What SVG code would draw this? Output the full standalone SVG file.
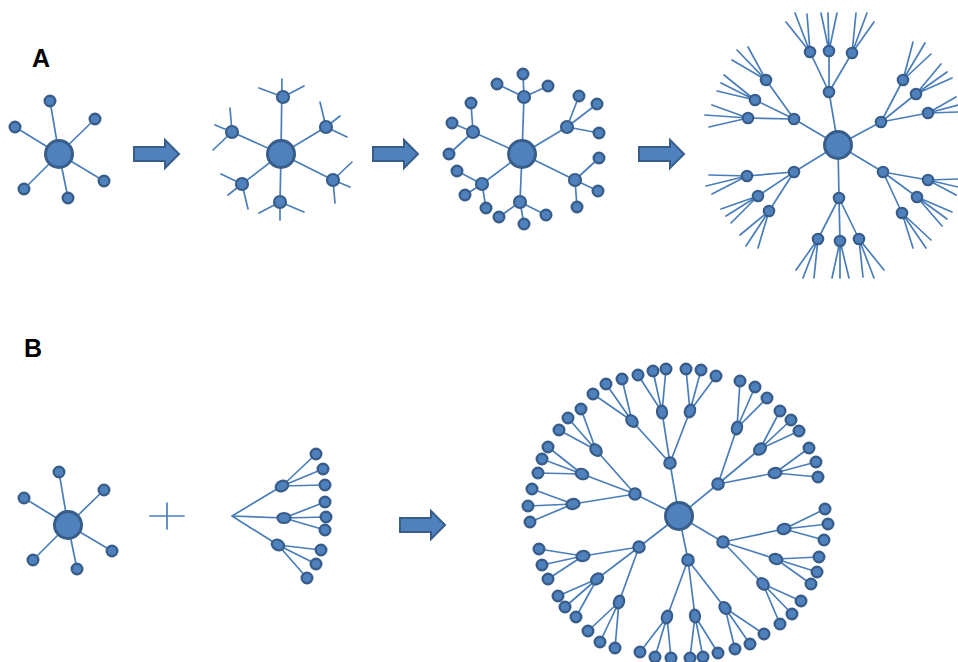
<svg xmlns="http://www.w3.org/2000/svg" width="958" height="662" viewBox="0 0 958 662">
<style>
.e{stroke:#4A7EBB;stroke-width:1.7;fill:none;stroke-linecap:round}
.hub{fill:#4F81BD;stroke:#385D8A;stroke-width:3}
.n{fill:#4F81BD;stroke:#385D8A;stroke-width:2.2}
.l{fill:#4F81BD;stroke:#385D8A;stroke-width:2.4}
.arr{fill:#4F81BD;stroke:#385D8A;stroke-width:2}
.lbl{font-family:"Liberation Sans",Arial,sans-serif;font-weight:bold;font-size:25px;fill:#000}
</style>
<rect width="958" height="662" fill="#fff"/>
<text class="lbl" x="32" y="67">A</text>
<text class="lbl" x="24" y="357">B</text>

<g id="arrows">
<path class="arr" d="M134,147 L165,147 L165,140 L179,154 L165,168 L165,161 L134,161 Z"/>
<path class="arr" d="M373,147 L404,147 L404,140 L418,154 L404,168 L404,161 L373,161 Z"/>
<path class="arr" d="M639,147 L670,147 L670,140 L684,154 L670,168 L670,161 L639,161 Z"/>
<path class="arr" d="M400,518 L431,518 L431,511 L445,525 L431,539 L431,532 L400,532 Z"/>
</g>

<g id="connectors" class="e">
<!-- A1 -->
<path d="M59,154L50,101M59,154L95,119M59,154L15,127M59,154L104,181M59,154L24,189M59,154L68,198"/>
<!-- A2 -->
<path d="M281,154L282,79M281,154L326,127M281,154L232,132M281,154L333,180M281,154L242,184M281,154L280,202"/>
<path d="M283,97L259,88M283,97L304,86"/>
<path d="M326,127L320,102M326,127L340,116M326,127L347,137"/>
<path d="M232,132L230,108M232,132L215,125M232,132L213,150"/>
<path d="M333,180L352,162M333,180L350,187M333,180L335,203"/>
<path d="M242,184L221,174M242,184L228,195M242,184L248,209"/>
<path d="M280,202L259,213M280,202L280,220M280,202L304,212"/>
<!-- A3 -->
<path d="M522,154L524,97M522,154L567,127M522,154L473,132M522,154L575,180M522,154L482,184M522,154L520,202"/>
<path d="M524,97L523,74M524,97L497,84M524,97L548,86"/>
<path d="M567,127L579,96M567,127L597,104M567,127L599,133"/>
<path d="M473,132L471,103M473,132L452,123M473,132L449,154"/>
<path d="M575,180L599,158M575,180L598,191M575,180L577,207"/>
<path d="M482,184L457,171M482,184L465,195M482,184L486,208"/>
<path d="M520,202L499,217M520,202L524,224M520,202L546,215"/>
<!-- A4 -->
<path d="M838,145L829,92M838,145L794,119M838,145L881,122M838,145L794,172M838,145L839,198M838,145L883,172"/>
<path d="M829,92L810,52M829,92L829,51M829,92L852,53"/>
<path d="M810,52L786,22M810,52L795,13M810,52L807,14"/>
<path d="M829,51L821,13M829,51L828,13M829,51L837,13"/>
<path d="M852,53L856,13M852,53L867,13M852,53L874,22"/>
<path d="M794,119L766,80M794,119L755,100M794,119L748,118"/>
<path d="M766,80L737,50M766,80L748,47M766,80L732,60"/>
<path d="M755,100L724,75M755,100L721,83M755,100L717,91"/>
<path d="M748,118L712,105M748,118L705,115M748,118L709,127"/>
<path d="M881,122L903,80M881,122L916,94M881,122L928,113"/>
<path d="M903,80L913,42M903,80L925,43M903,80L931,54"/>
<path d="M916,94L941,64M916,94L947,72M916,94L952,78"/>
<path d="M928,113L956,97M928,113L958,105M928,113L958,112"/>
<path d="M794,172L747,176M794,172L758,196M794,172L769,211"/>
<path d="M747,176L709,175M747,176L706,186M747,176L712,194"/>
<path d="M758,196L721,209M758,196L726,216M758,196L731,223"/>
<path d="M769,211L740,235M769,211L746,246M769,211L758,248"/>
<path d="M839,198L818,239M839,198L840,241M839,198L859,239"/>
<path d="M818,239L796,270M818,239L803,278M818,239L814,278"/>
<path d="M840,241L832,278M840,241L840,278M840,241L849,278"/>
<path d="M859,239L863,277M859,239L874,278M859,239L884,270"/>
<path d="M883,172L928,180M883,172L917,197M883,172L902,213"/>
<path d="M928,180L958,179M928,180L958,187M928,180L956,195"/>
<path d="M917,197L952,212M917,197L947,219M917,197L942,226"/>
<path d="M902,213L931,240M902,213L926,248M902,213L913,248"/>
<!-- B star -->
<path d="M68,525L59,472M68,525L104,490M68,525L24,498M68,525L112,551M68,525L33,560M68,525L77,569"/>
<!-- plus -->
<path d="M150,516L184,516M167,503L167,529"/>
<!-- fan -->
<path d="M232,516L282,486M232,516L284,518M232,516L278,545"/>
<path d="M282,486L316,454M282,486L323,469M282,486L325,485"/>
<path d="M284,518L325,502M284,518L326,517M284,518L325,530"/>
<path d="M278,545L321,550M278,545L316,564M278,545L307,578"/>
<!-- B big -->
<path d="M679,516L670,463M679,516L635,494M679,516L718,484M679,516L723,542M679,516L688,560M679,516L639,547"/>
<path d="M670,463L632,421M670,463L662,412M670,463L690,411"/>
<path d="M662,412L638,375M662,412L653,371M662,412L666,369"/>
<path d="M632,421L593,394M632,421L606,384M632,421L622,379"/>
<path d="M690,411L686,369M690,411L701,370M690,411L716,376"/>
<path d="M635,494L596,450M635,494L582,474M635,494L573,504"/>
<path d="M596,450L559,430M596,450L568,418M596,450L581,409"/>
<path d="M582,474L548,447M582,474L542,459M582,474L538,473"/>
<path d="M573,504L532,489M573,504L528,506M573,504L530,522"/>
<path d="M718,484L737,428M718,484L760,449M718,484L775,473"/>
<path d="M737,428L740,381M737,428L755,387M737,428L767,398"/>
<path d="M760,449L780,411M760,449L791,420M760,449L799,431"/>
<path d="M775,473L809,448M775,473L816,462M775,473L818,477"/>
<path d="M723,542L784,529M723,542L776,559M723,542L763,584"/>
<path d="M784,529L825,509M784,529L828,524M784,529L824,540"/>
<path d="M776,559L819,557M776,559L817,572M776,559L811,584"/>
<path d="M763,584L801,601M763,584L792,614M763,584L780,624"/>
<path d="M688,560L667,617M688,560L695,616M688,560L725,608"/>
<path d="M695,616L690,658M695,616L703,657M695,616L718,653"/>
<path d="M725,608L735,649M725,608L750,644M725,608L764,634"/>
<path d="M667,617L640,652M667,617L655,657M667,617L671,658"/>
<path d="M639,547L583,556M639,547L597,579M639,547L619,602"/>
<path d="M583,556L539,549M583,556L542,565M583,556L548,579"/>
<path d="M597,579L558,596M597,579L565,607M597,579L576,617"/>
<path d="M619,602L588,631M619,602L600,642M619,602L615,648"/>
</g>

<g id="a1">
<circle class="hub" cx="59" cy="154" r="13.5"/>
<g class="l"><circle cx="50" cy="101" r="5.3"/><circle cx="95" cy="119" r="5.3"/><circle cx="15" cy="127" r="5.3"/><circle cx="104" cy="181" r="5.3"/><circle cx="24" cy="189" r="5.3"/><circle cx="68" cy="198" r="5.3"/></g>
</g>

<g id="a2">
<circle class="hub" cx="281" cy="154" r="13.5"/>
<g class="n"><circle cx="283" cy="97" r="6"/><circle cx="326" cy="127" r="6"/><circle cx="232" cy="132" r="6"/><circle cx="333" cy="180" r="6"/><circle cx="242" cy="184" r="6"/><circle cx="280" cy="202" r="6"/></g>
</g>

<g id="a3">
<circle class="hub" cx="522" cy="154" r="13.5"/>
<g class="n"><circle cx="524" cy="97" r="6"/><circle cx="567" cy="127" r="6"/><circle cx="473" cy="132" r="6"/><circle cx="575" cy="180" r="6"/><circle cx="482" cy="184" r="6"/><circle cx="520" cy="202" r="6"/></g>
<g class="l">
<circle cx="523" cy="74" r="5.3"/><circle cx="497" cy="84" r="5.3"/><circle cx="548" cy="86" r="5.3"/>
<circle cx="579" cy="96" r="5.3"/><circle cx="597" cy="104" r="5.3"/><circle cx="599" cy="133" r="5.3"/>
<circle cx="471" cy="103" r="5.3"/><circle cx="452" cy="123" r="5.3"/><circle cx="449" cy="154" r="5.3"/>
<circle cx="599" cy="158" r="5.3"/><circle cx="598" cy="191" r="5.3"/><circle cx="577" cy="207" r="5.3"/>
<circle cx="457" cy="171" r="5.3"/><circle cx="465" cy="195" r="5.3"/><circle cx="486" cy="208" r="5.3"/>
<circle cx="499" cy="217" r="5.3"/><circle cx="524" cy="224" r="5.3"/><circle cx="546" cy="215" r="5.3"/>
</g>
</g>

<g id="a4">
<circle class="hub" cx="838" cy="145" r="13.5"/>
<g class="n">
<circle cx="829" cy="92" r="5.2"/><circle cx="794" cy="119" r="5.2"/><circle cx="881" cy="122" r="5.2"/><circle cx="794" cy="172" r="5.2"/><circle cx="839" cy="198" r="5.2"/><circle cx="883" cy="172" r="5.2"/>
<circle cx="810" cy="52" r="5.2"/><circle cx="829" cy="51" r="5.2"/><circle cx="852" cy="53" r="5.2"/>
<circle cx="766" cy="80" r="5.2"/><circle cx="755" cy="100" r="5.2"/><circle cx="748" cy="118" r="5.2"/>
<circle cx="903" cy="80" r="5.2"/><circle cx="916" cy="94" r="5.2"/><circle cx="928" cy="113" r="5.2"/>
<circle cx="747" cy="176" r="5.2"/><circle cx="758" cy="196" r="5.2"/><circle cx="769" cy="211" r="5.2"/>
<circle cx="818" cy="239" r="5.2"/><circle cx="840" cy="241" r="5.2"/><circle cx="859" cy="239" r="5.2"/>
<circle cx="928" cy="180" r="5.2"/><circle cx="917" cy="197" r="5.2"/><circle cx="902" cy="213" r="5.2"/>
</g>
</g>

<g id="b1">
<circle class="hub" cx="68" cy="525" r="13.5"/>
<g class="l"><circle cx="59" cy="472" r="5.3"/><circle cx="104" cy="490" r="5.3"/><circle cx="24" cy="498" r="5.3"/><circle cx="112" cy="551" r="5.3"/><circle cx="33" cy="560" r="5.3"/><circle cx="77" cy="569" r="5.3"/></g>
</g>

<g id="b2">
<g class="n">
<ellipse cx="282" cy="486" rx="6.5" ry="5" transform="rotate(-25 282 486)"/>
<ellipse cx="284" cy="518" rx="6.5" ry="5"/>
<ellipse cx="278" cy="545" rx="6.5" ry="5" transform="rotate(28 278 545)"/>
</g>
<g class="l">
<circle cx="316" cy="454" r="5.3"/><circle cx="323" cy="469" r="5.3"/><circle cx="325" cy="485" r="5.3"/>
<circle cx="325" cy="502" r="5.3"/><circle cx="326" cy="517" r="5.3"/><circle cx="325" cy="530" r="5.3"/>
<circle cx="321" cy="550" r="5.3"/><circle cx="316" cy="564" r="5.3"/><circle cx="307" cy="578" r="5.3"/>
</g>
</g>

<g id="b3">
<circle class="hub" cx="679" cy="516" r="13.5"/>
<g class="n">
<circle cx="670" cy="463" r="5.7"/><circle cx="635" cy="494" r="5.7"/><circle cx="718" cy="484" r="5.7"/><circle cx="723" cy="542" r="5.7"/><circle cx="688" cy="560" r="5.7"/><circle cx="639" cy="547" r="5.7"/>
<ellipse cx="632" cy="421" rx="6.5" ry="5" transform="rotate(48 632 421)"/>
<ellipse cx="662" cy="412" rx="6.5" ry="5" transform="rotate(81 662 412)"/>
<ellipse cx="690" cy="411" rx="6.5" ry="5" transform="rotate(111 690 411)"/>
<ellipse cx="596" cy="450" rx="6.5" ry="5" transform="rotate(48 596 450)"/>
<ellipse cx="582" cy="474" rx="6.5" ry="5" transform="rotate(21 582 474)"/>
<ellipse cx="573" cy="504" rx="6.5" ry="5" transform="rotate(-9 573 504)"/>
<ellipse cx="737" cy="428" rx="6.5" ry="5" transform="rotate(-71 737 428)"/>
<ellipse cx="760" cy="449" rx="6.5" ry="5" transform="rotate(-40 760 449)"/>
<ellipse cx="775" cy="473" rx="6.5" ry="5" transform="rotate(-11 775 473)"/>
<ellipse cx="784" cy="529" rx="6.5" ry="5" transform="rotate(-12 784 529)"/>
<ellipse cx="776" cy="559" rx="6.5" ry="5" transform="rotate(18 776 559)"/>
<ellipse cx="763" cy="584" rx="6.5" ry="5" transform="rotate(46 763 584)"/>
<ellipse cx="667" cy="617" rx="6.5" ry="5" transform="rotate(-70 667 617)"/>
<ellipse cx="695" cy="616" rx="6.5" ry="5" transform="rotate(83 695 616)"/>
<ellipse cx="725" cy="608" rx="6.5" ry="5" transform="rotate(52 725 608)"/>
<ellipse cx="583" cy="556" rx="6.5" ry="5" transform="rotate(-9 583 556)"/>
<ellipse cx="597" cy="579" rx="6.5" ry="5" transform="rotate(-37 597 579)"/>
<ellipse cx="619" cy="602" rx="6.5" ry="5" transform="rotate(-70 619 602)"/>
</g>
<g class="l">
<circle cx="638" cy="375" r="5.3"/><circle cx="653" cy="371" r="5.3"/><circle cx="666" cy="369" r="5.3"/>
<circle cx="593" cy="394" r="5.3"/><circle cx="606" cy="384" r="5.3"/><circle cx="622" cy="379" r="5.3"/>
<circle cx="686" cy="369" r="5.3"/><circle cx="701" cy="370" r="5.3"/><circle cx="716" cy="376" r="5.3"/>
<circle cx="559" cy="430" r="5.3"/><circle cx="568" cy="418" r="5.3"/><circle cx="581" cy="409" r="5.3"/>
<circle cx="548" cy="447" r="5.3"/><circle cx="542" cy="459" r="5.3"/><circle cx="538" cy="473" r="5.3"/>
<circle cx="532" cy="489" r="5.3"/><circle cx="528" cy="506" r="5.3"/><circle cx="530" cy="522" r="5.3"/>
<circle cx="740" cy="381" r="5.3"/><circle cx="755" cy="387" r="5.3"/><circle cx="767" cy="398" r="5.3"/>
<circle cx="780" cy="411" r="5.3"/><circle cx="791" cy="420" r="5.3"/><circle cx="799" cy="431" r="5.3"/>
<circle cx="809" cy="448" r="5.3"/><circle cx="816" cy="462" r="5.3"/><circle cx="818" cy="477" r="5.3"/>
<circle cx="825" cy="509" r="5.3"/><circle cx="828" cy="524" r="5.3"/><circle cx="824" cy="540" r="5.3"/>
<circle cx="819" cy="557" r="5.3"/><circle cx="817" cy="572" r="5.3"/><circle cx="811" cy="584" r="5.3"/>
<circle cx="801" cy="601" r="5.3"/><circle cx="792" cy="614" r="5.3"/><circle cx="780" cy="624" r="5.3"/>
<circle cx="690" cy="658" r="5.3"/><circle cx="703" cy="657" r="5.3"/><circle cx="718" cy="653" r="5.3"/>
<circle cx="735" cy="649" r="5.3"/><circle cx="750" cy="644" r="5.3"/><circle cx="764" cy="634" r="5.3"/>
<circle cx="640" cy="652" r="5.3"/><circle cx="655" cy="657" r="5.3"/><circle cx="671" cy="658" r="5.3"/>
<circle cx="539" cy="549" r="5.3"/><circle cx="542" cy="565" r="5.3"/><circle cx="548" cy="579" r="5.3"/>
<circle cx="558" cy="596" r="5.3"/><circle cx="565" cy="607" r="5.3"/><circle cx="576" cy="617" r="5.3"/>
<circle cx="588" cy="631" r="5.3"/><circle cx="600" cy="642" r="5.3"/><circle cx="615" cy="648" r="5.3"/>
</g>
</g>
</svg>
